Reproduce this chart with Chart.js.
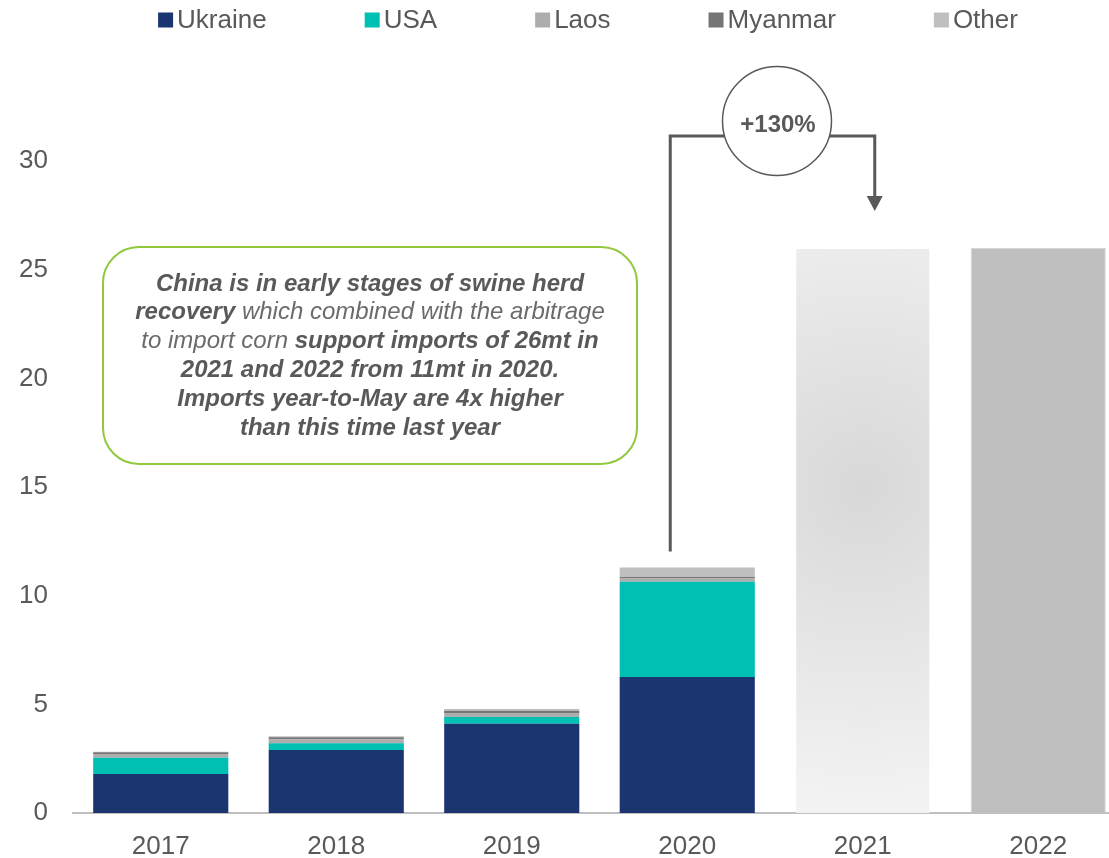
<!DOCTYPE html>
<html>
<head>
<meta charset="utf-8">
<title>China corn imports</title>
<script src="https://cdn.jsdelivr.net/npm/chart.js@4.4.1/dist/chart.umd.min.js"></script>
<style>
  html, body { margin: 0; padding: 0; background: #fff; overflow: hidden; }
  #wrap { width: 1126px; height: 858px; position: relative; }
</style>
</head>
<body>
<div id="wrap"><canvas id="importsChart"></canvas></div>
<script>
'use strict';

// China corn imports by origin (mt), 2021-2022 are totals only
const years = ['2017', '2018', '2019', '2020', '2021', '2022'];
const ukraine = [1.8, 2.9, 4.11, 6.26, null, null];
const usa = [0.74, 0.31, 0.31, 4.38, null, null];
const laos = [0.17, 0.18, 0.18, 0.16, null, null];
const myanmar = [0.08, 0.1, 0.1, 0.06, null, null];
const other = [0.03, 0.04, 0.08, 0.44, null, null];
const forecast = [null, null, null, null, 26, 26];
const yTicks = [0, 5, 10, 15, 20, 25, 30];
const growthLabel = '+130%';

// callout text, split in runs of bold / plain italic
const noteLines = [
    [['b', 'China is in early stages of swine herd']],
    [['b', 'recovery'], ['i', ' which combined with the arbitrage']],
    [['i', 'to import corn '], ['b', 'support imports of 26mt in']],
    [['b', '2021 and 2022 from 11mt in 2020.']],
    [['b', 'Imports year-to-May are 4x higher']],
    [['b', 'than this time last year']]
];

const FONT = 'Arial, "Liberation Sans", Helvetica, sans-serif';
const GREY_TEXT = '#595959';

Chart.defaults.font.family = FONT;
Chart.defaults.color = GREY_TEXT;

// legend drawn by hand so the spacing between items can be wide
const topLegend = {
    id: 'topLegend',
    afterDraw(chart) {
        const ctx = chart.ctx;
        const items = chart.data.datasets.filter(ds => ds.inLegend);
        const box = 15, gap = 4, spacing = 98, y = 20;
        ctx.save();
        ctx.font = '26px ' + FONT;
        ctx.textBaseline = 'middle';
        ctx.textAlign = 'left';
        const widths = items.map(ds => box + gap + ctx.measureText(ds.label).width);
        const total = widths.reduce((a, b) => a + b, 0) + spacing * (items.length - 1);
        let x = 588 - total / 2;
        items.forEach(function (ds, i) {
            ctx.fillStyle = ds.backgroundColor;
            ctx.fillRect(x, y - box / 2, box, box);
            ctx.fillStyle = GREY_TEXT;
            ctx.fillText(ds.label, x + box + gap, y + 1);
            x += widths[i] + spacing;
        });
        ctx.restore();
    }
};

function roundedRect(ctx, x, y, w, h, r) {
    ctx.beginPath();
    ctx.moveTo(x + r, y);
    ctx.arcTo(x + w, y, x + w, y + h, r);
    ctx.arcTo(x + w, y + h, x, y + h, r);
    ctx.arcTo(x, y + h, x, y, r);
    ctx.arcTo(x, y, x + w, y, r);
    ctx.closePath();
}

// green callout box with the comment text
const noteBox = {
    id: 'noteBox',
    afterDatasetsDraw(chart) {
        const ctx = chart.ctx;
        const bx = 103, by = 247, bw = 534, bh = 217;
        ctx.save();
        roundedRect(ctx, bx, by, bw, bh, 36);
        ctx.fillStyle = '#fff';
        ctx.fill();
        ctx.lineWidth = 2;
        ctx.strokeStyle = '#92c83e';
        ctx.stroke();

        ctx.textBaseline = 'middle';
        ctx.textAlign = 'left';
        const cx = bx + bw / 2;
        noteLines.forEach(function (runs, i) {
            const lineY = 284 + i * 28.8;
            const fonts = runs.map(r => (r[0] === 'b' ? 'italic bold 24px ' : 'italic 24px ') + FONT);
            const widths = runs.map(function (r, j) {
                ctx.font = fonts[j];
                return ctx.measureText(r[1]).width;
            });
            let x = cx - widths.reduce((a, b) => a + b, 0) / 2;
            runs.forEach(function (r, j) {
                ctx.font = fonts[j];
                ctx.fillStyle = r[0] === 'b' ? GREY_TEXT : '#6b6b6b';
                ctx.fillText(r[1], x, lineY);
                x += widths[j];
            });
        });
        ctx.restore();
    }
};

// elbow arrow from the 2020 bar to the 2021 bar with the growth bubble
const growthArrow = {
    id: 'growthArrow',
    afterDatasetsDraw(chart) {
        const ctx = chart.ctx;
        const xs = chart.scales.x, ys = chart.scales.y;
        const total2020 = ukraine[3] + usa[3] + laos[3] + myanmar[3] + other[3];
        const x0 = xs.getPixelForValue(3) - 17;
        const x1 = xs.getPixelForValue(4) + 12;
        const yLow = ys.getPixelForValue(total2020) - 16;
        const yTop = ys.getPixelForValue(30) - 25;
        const yTip = ys.getPixelForValue(forecast[4]) - 37;
        const cx = 777, cy = 121, r = 54.5;

        ctx.save();
        ctx.strokeStyle = GREY_TEXT;
        ctx.lineWidth = 3;
        ctx.beginPath();
        ctx.moveTo(x0, yLow);
        ctx.lineTo(x0, yTop);
        ctx.lineTo(x1, yTop);
        ctx.lineTo(x1, yTip - 14);
        ctx.stroke();

        ctx.fillStyle = GREY_TEXT;
        ctx.beginPath();
        ctx.moveTo(x1 - 8, yTip - 15);
        ctx.lineTo(x1 + 8, yTip - 15);
        ctx.lineTo(x1, yTip);
        ctx.closePath();
        ctx.fill();

        ctx.beginPath();
        ctx.arc(cx, cy, r, 0, Math.PI * 2);
        ctx.fillStyle = '#fff';
        ctx.fill();
        ctx.lineWidth = 1.5;
        ctx.strokeStyle = GREY_TEXT;
        ctx.stroke();

        ctx.font = 'bold 24px ' + FONT;
        ctx.fillStyle = GREY_TEXT;
        ctx.textAlign = 'center';
        ctx.textBaseline = 'middle';
        ctx.fillText(growthLabel, cx + 1, cy + 4);
        ctx.restore();
    }
};

// 2021 bar gets a soft radial shading, 2022 is flat grey
function forecastColor(c) {
    const chart = c.chart;
    if (c.dataIndex === 5) return '#bfbfbf';
    if (!chart.chartArea || c.dataIndex !== 4) return '#e6e6e6';
    const xs = chart.scales.x, ys = chart.scales.y;
    const v = forecast[c.dataIndex];
    const cx = xs.getPixelForValue(c.dataIndex);
    const cy = ys.getPixelForValue(v * 0.58);
    const rad = (ys.getPixelForValue(0) - ys.getPixelForValue(v)) * 0.55;
    const g = chart.ctx.createRadialGradient(cx, cy, 0, cx, cy, rad);
    g.addColorStop(0, '#d8d8d8');
    g.addColorStop(1, '#f2f2f2');
    return g;
}

const ctx = document.getElementById('importsChart').getContext('2d');

new Chart(ctx, {
    type: 'bar',
    data: {
        labels: years,
        datasets: [
            { label: 'Ukraine', data: ukraine, backgroundColor: '#1b3570', inLegend: true },
            { label: 'USA', data: usa, backgroundColor: '#00bfb3', inLegend: true },
            { label: 'Laos', data: laos, backgroundColor: '#adadad', inLegend: true },
            { label: 'Myanmar', data: myanmar, backgroundColor: '#757575', inLegend: true },
            { label: 'Other', data: other, backgroundColor: '#bfbfbf', inLegend: true },
            {
                label: 'Total',
                data: forecast,
                backgroundColor: forecastColor,
                borderColor: ['#fff', '#fff', '#fff', '#fff', 'rgba(0,0,0,0)', '#d6d6d6'],
                borderWidth: 1,
                inLegend: false
            }
        ]
    },
    options: {
        responsive: true,
        maintainAspectRatio: false,
        animation: false,
        layout: { padding: { top: 161, left: 0, right: 0, bottom: 0 } },
        datasets: {
            bar: { categoryPercentage: 1, barPercentage: 0.77 }
        },
        plugins: {
            legend: { display: false },
            tooltip: { enabled: false }
        },
        scales: {
            x: {
                stacked: true,
                grid: { display: false, drawTicks: false },
                border: { display: true, color: '#bfbfbf', width: 2 },
                ticks: { color: GREY_TEXT, font: { size: 26 }, padding: 18 },
                afterFit: function (scale) { scale.height = 45; }
            },
            y: {
                stacked: true,
                min: 0,
                max: 30,
                grid: { display: false, drawTicks: false },
                border: { display: false },
                ticks: { color: GREY_TEXT, font: { size: 26 }, padding: 25 },
                afterBuildTicks: function (scale) {
                    scale.ticks = yTicks.map(v => ({ value: v }));
                },
                afterFit: function (scale) { scale.width = 73; }
            }
        }
    },
    plugins: [topLegend, noteBox, growthArrow]
});
</script>
</body>
</html>
